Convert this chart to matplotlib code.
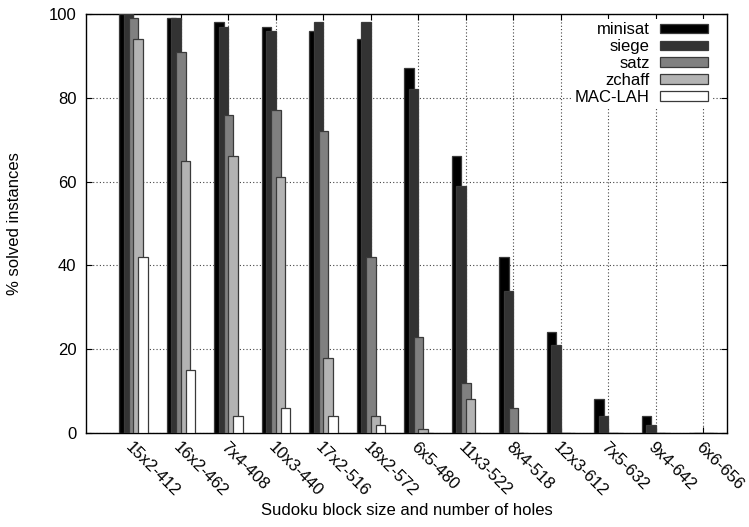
import numpy as np
import matplotlib
matplotlib.use('Agg')
import matplotlib.pyplot as plt
from matplotlib.transforms import ScaledTranslation

plt.rcParams['font.family'] = ['Liberation Sans', 'DejaVu Sans']

instances = ['15x2-412', '16x2-462', '7x4-408', '10x3-440', '17x2-516',
             '18x2-572', '6x5-480', '11x3-522', '8x4-518', '12x3-612',
             '7x5-632', '9x4-642', '6x6-656']

solvers = ['minisat', 'siege', 'satz', 'zchaff', 'MAC-LAH']

minisat = [100, 99, 98, 97, 96, 94, 87, 66, 42, 24, 8, 4, 0]
siege = [100, 99, 97, 96, 98, 98, 82, 59, 34, 21, 4, 2, 0]
satz = [99, 91, 76, 77, 72, 42, 23, 12, 6, 0, 0, 0, 0]
zchaff = [94, 65, 66, 61, 18, 4, 1, 8, 0, 0, 0, 0, 0]
macLah = [42, 15, 4, 6, 4, 2, 0, 0, 0, 0, 0, 0, 0]

series = [minisat, siege, satz, zchaff, macLah]
fills = ['#000000', '#333333', '#808080', '#b3b3b3', '#ffffff']

fig = plt.figure(figsize=(7.49, 5.27), dpi=100)
ax = fig.add_axes([0.1148, 0.1784, 0.8558, 0.7950])

x = np.arange(len(instances))
barW = 0.2
step = 0.1

# overlapping clustered bars, each drawn on top of the previous one
#
for i, (name, vals, col) in enumerate(zip(solvers, series, fills)):
    ax.bar(x + (i - 2) * step, vals, width=barW, color=col,
           edgecolor='#3a3a3a', linewidth=0.9, label=name, zorder=3)

ax.set_xlim(-1, len(instances) - 0.5)
ax.set_ylim(0, 100)
ax.set_yticks([0, 20, 40, 60, 80, 100])
ax.set_xticks(x)
ax.set_xticklabels(instances, rotation=-45, ha='left', va='top',
                   rotation_mode='anchor', fontsize=12)
shift = ScaledTranslation(0.04, 0, fig.dpi_scale_trans)
for lbl in ax.get_xticklabels():
    lbl.set_transform(lbl.get_transform() + shift)
ax.tick_params(axis='both', direction='in', top=True, right=True,
               length=4, width=0.8, labelsize=12)
ax.tick_params(axis='x', pad=4.5)
ax.tick_params(axis='y', pad=7)

ax.grid(True, linestyle=(0, (1, 2)), color='#444444', linewidth=0.8, zorder=0)
ax.set_axisbelow(True)
for sp in ax.spines.values():
    sp.set_linewidth(1.0)

ax.set_xlabel('Sudoku block size and number of holes', fontsize=12)
ax.xaxis.set_label_coords(0.5, -0.184)
ax.xaxis.label.set_va('center')
ax.set_ylabel('% solved instances', fontsize=12)
ax.yaxis.set_label_coords(-0.111, 0.5)
ax.yaxis.label.set_va('center')

leg = ax.legend(loc='upper right', bbox_to_anchor=(0.9755, 0.988),
                markerfirst=False, fontsize=12, frameon=True,
                handlelength=2.9, handleheight=0.5, labelspacing=0.11,
                handletextpad=0.6, borderpad=0.2, borderaxespad=0,
                fancybox=False)
leg.get_frame().set_facecolor('white')
leg.get_frame().set_edgecolor('none')
leg.get_frame().set_alpha(1)
for t in leg.get_texts():
    t.set_ha('right')

fig.savefig('out.png', dpi=100)
